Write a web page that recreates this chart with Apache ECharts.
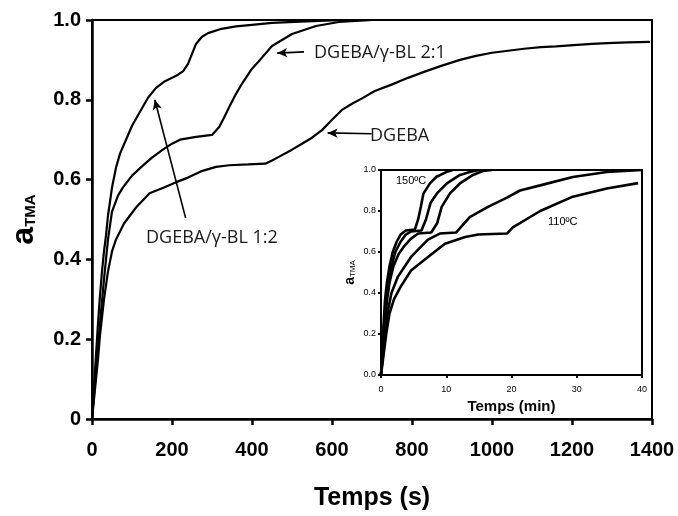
<!DOCTYPE html>
<html><head><meta charset="utf-8">
<script src="https://cdn.jsdelivr.net/npm/echarts@6/dist/echarts.min.js"></script>
<style>html,body{margin:0;padding:0;background:#fff}#c{width:678px;height:516px}</style>
</head><body><div id="c"></div>
<script>
// ---- tick definitions ----
const mainXTicks = [0, 200, 400, 600, 800, 1000, 1200, 1400];
const mainYTickLabels = ['0', '0.2', '0.4', '0.6', '0.8', '1.0'];
const insetXTicks = [0, 10, 20, 30, 40];
const insetYTickLabels = ['0.0', '0.2', '0.4', '0.6', '0.8', '1.0'];

// ---- main chart series: [time (s), a_TMA] ----
const blend12 = [[0,0],[5,0.08],[10,0.16],[15,0.24],[20,0.31],[25,0.37],[30,0.42],[35,0.46],[40,0.51],[50,0.58],[60,0.63],[70,0.665],[85,0.70],[100,0.735],[120,0.77],[140,0.805],[160,0.83],[180,0.845],[200,0.855],[215,0.863],[228,0.872],[240,0.89],[250,0.915],[260,0.94],[275,0.958],[290,0.967],[320,0.977],[360,0.984],[400,0.988],[450,0.993],[520,0.996],[600,0.999],[700,1.0],[760,1.0]];
const blend21 = [[0,0],[5,0.06],[10,0.12],[15,0.18],[20,0.24],[30,0.35],[40,0.45],[50,0.52],[65,0.56],[77,0.58],[100,0.61],[127,0.635],[150,0.655],[177,0.675],[200,0.69],[220,0.70],[260,0.707],[300,0.712],[318,0.732],[330,0.755],[343,0.782],[360,0.815],[376,0.842],[400,0.878],[420,0.9],[450,0.935],[500,0.965],[560,0.985],[617,0.995],[700,1.0],[760,1.0]];
const dgeba = [[0,0],[5,0.05],[10,0.1],[15,0.15],[20,0.21],[30,0.3],[40,0.37],[50,0.42],[60,0.45],[80,0.49],[110,0.53],[144,0.566],[180,0.58],[209,0.593],[240,0.605],[276,0.622],[310,0.632],[343,0.636],[390,0.638],[433,0.64],[450,0.648],[467,0.657],[500,0.675],[525,0.69],[550,0.705],[575,0.724],[600,0.75],[624,0.774],[650,0.79],[674,0.803],[707,0.822],[749,0.838],[790,0.855],[830,0.87],[873,0.885],[920,0.9],[960,0.91],[1000,0.918],[1040,0.923],[1080,0.928],[1122,0.932],[1160,0.934],[1204,0.937],[1250,0.94],[1288,0.942],[1340,0.944],[1395,0.945]];

// ---- inset series: [time (min), a_TMA] ----
const inset150 = [[0,0],[0.2,0.12],[0.4,0.25],[0.6,0.36],[0.9,0.45],[1.3,0.53],[1.8,0.6],[2.4,0.65],[3.0,0.685],[3.8,0.705],[5.2,0.71],[5.7,0.76],[6.1,0.82],[6.5,0.885],[7.5,0.935],[8.5,0.967],[10,0.99],[11,1.0]];
const inset140 = [[0,0],[0.25,0.12],[0.5,0.25],[0.8,0.36],[1.1,0.45],[1.6,0.53],[2.2,0.6],[3,0.65],[3.8,0.685],[4.6,0.70],[6.2,0.705],[6.9,0.76],[7.6,0.84],[8.6,0.887],[10.1,0.935],[12.1,0.976],[13.6,0.99],[15,1.0]];
const inset130 = [[0,0],[0.3,0.12],[0.6,0.25],[0.9,0.36],[1.3,0.45],[1.9,0.53],[2.7,0.59],[3.6,0.63],[4.6,0.665],[5.7,0.69],[7.7,0.695],[8.6,0.74],[9.3,0.82],[10.6,0.887],[12.1,0.935],[14.1,0.976],[15.6,0.995],[17,1.0]];
const inset120 = [[0,0],[0.35,0.12],[0.7,0.22],[1.1,0.32],[1.6,0.40],[2.6,0.48],[4.6,0.576],[7.2,0.66],[9,0.69],[11.5,0.695],[13.6,0.77],[16.4,0.82],[19.3,0.865],[21.3,0.9],[24.4,0.925],[29.4,0.966],[34.6,0.99],[40,1.0]];
const inset110 = [[0,0],[0.4,0.1],[0.8,0.2],[1.3,0.3],[2.0,0.37],[3,0.43],[4.6,0.51],[7.2,0.576],[9.8,0.64],[12.9,0.673],[14.9,0.685],[19.3,0.69],[20.2,0.72],[24.4,0.80],[29.4,0.87],[34.6,0.91],[39.4,0.936]];

// ---- annotation arrows in data coords [from, to] ----
const arrows = [
  [[530, 0.92], [463, 0.917]],
  [[699, 0.715], [589, 0.717]],
  [[234, 0.504], [157, 0.80]]
];

const chart = echarts.init(document.getElementById('c'), null, {renderer: 'canvas'});
const F = 'Liberation Sans, Arial, sans-serif';

function mainLine(data, extra) {
  return Object.assign({
    type: 'line', data: data, xAxisIndex: 0, yAxisIndex: 0,
    showSymbol: false, symbol: 'none', smooth: false,
    lineStyle: {color: '#000', width: 2.2}, silent: true, z: 3
  }, extra || {});
}
function insetLine(data) {
  return {
    type: 'line', data: data, xAxisIndex: 1, yAxisIndex: 1,
    showSymbol: false, symbol: 'none',
    lineStyle: {color: '#000', width: 2.6}, silent: true, z: 3
  };
}

const option = {
  animation: false,
  backgroundColor: '#fff',
  grid: [
    {left: 88, top: 20, right: 26, bottom: 97, show: true, borderColor: '#000', borderWidth: 2, backgroundColor: 'transparent'},
    {left: 381, top: 170, width: 261, height: 205, show: true, borderColor: '#000', borderWidth: 2, backgroundColor: '#fff', z: 2}
  ],
  xAxis: [
    {
      type: 'value', gridIndex: 0, min: mainXTicks[0], max: mainXTicks[mainXTicks.length - 1],
      interval: mainXTicks[1] - mainXTicks[0],
      name: 'Temps (s)', nameLocation: 'middle', nameGap: 67,
      nameTextStyle: {fontFamily: F, fontWeight: 'bold', fontSize: 25, color: '#000'},
      axisLine: {lineStyle: {color: '#000', width: 2.5}},
      axisTick: {inside: false, length: 6, lineStyle: {color: '#000', width: 2.5}},
      axisLabel: {margin: 21, fontFamily: F, fontWeight: 'bold', fontSize: 20, color: '#000',
        formatter: v => String(mainXTicks[mainXTicks.indexOf(v)])},
      splitLine: {show: false}
    },
    {
      type: 'value', gridIndex: 1, min: insetXTicks[0], max: insetXTicks[insetXTicks.length - 1],
      interval: insetXTicks[1] - insetXTicks[0],
      name: 'Temps (min)', nameLocation: 'middle', nameGap: 24,
      nameTextStyle: {fontFamily: F, fontWeight: 'bold', fontSize: 15, color: '#000'},
      axisLine: {lineStyle: {color: '#000', width: 2}},
      axisTick: {length: 3, lineStyle: {color: '#000', width: 2}},
      axisLabel: {margin: 10, fontFamily: F, fontSize: 9, color: '#000'},
      splitLine: {show: false}
    }
  ],
  yAxis: [
    {
      type: 'value', gridIndex: 0, min: 0, max: 1, interval: 0.2,
      name: '{a|a}{s|TMA}', nameLocation: 'middle', nameGap: 52, nameRotate: 90,
      nameTextStyle: {
        color: '#000',
        rich: {
          a: {fontFamily: F, fontWeight: 'bold', fontSize: 32, color: '#000', verticalAlign: 'bottom'},
          s: {fontFamily: F, fontWeight: 'bold', fontSize: 15, color: '#000', verticalAlign: 'bottom', padding: [0, 0, 2, 0]}
        }
      },
      axisLine: {lineStyle: {color: '#000', width: 2.5}},
      axisTick: {length: 6, lineStyle: {color: '#000', width: 2.5}},
      axisLabel: {margin: 11, fontFamily: F, fontWeight: 'bold', fontSize: 20, color: '#000',
        formatter: v => mainYTickLabels[Math.round(v / 0.2)]},
      splitLine: {show: false}
    },
    {
      type: 'value', gridIndex: 1, min: 0, max: 1, interval: 0.2,
      name: '{a|a}{s|TMA}', nameLocation: 'middle', nameGap: 24, nameRotate: 90,
      nameTextStyle: {
        color: '#000',
        rich: {
          a: {fontFamily: F, fontWeight: 'bold', fontSize: 14, color: '#000', verticalAlign: 'bottom'},
          s: {fontFamily: F, fontSize: 8, color: '#000', verticalAlign: 'bottom'}
        }
      },
      axisLine: {lineStyle: {color: '#000', width: 2}},
      axisTick: {length: 3, lineStyle: {color: '#000', width: 2}},
      axisLabel: {margin: 5, fontFamily: F, fontSize: 9, color: '#000',
        formatter: v => insetYTickLabels[Math.round(v / 0.2)]},
      splitLine: {show: false}
    }
  ],
  series: [
    mainLine(blend12),
    mainLine(blend21),
    mainLine(dgeba, {
      markLine: {
        silent: true, symbol: ['none', 'arrow'], symbolSize: [7, 10],
        label: {show: false},
        lineStyle: {color: '#000', width: 1.6, type: 'solid'},
        data: arrows.map(a => [{coord: a[0]}, {coord: a[1]}])
      }
    }),
    insetLine(inset150),
    insetLine(inset140),
    insetLine(inset130),
    insetLine(inset120),
    insetLine(inset110)
  ],
  graphic: [
    {type: 'text', x: 314, y: 53, z: 10, style: {text: 'DGEBA/γ-BL 2:1', font: '18px "Open Sans"', fill: '#1a1a1a', verticalAlign: 'middle'}},
    {type: 'text', x: 370, y: 136, z: 10, style: {text: 'DGEBA', font: '18px "Open Sans"', fill: '#1a1a1a', verticalAlign: 'middle'}},
    {type: 'text', x: 146, y: 238, z: 10, style: {text: 'DGEBA/γ-BL 1:2', font: '18px "Open Sans"', fill: '#1a1a1a', verticalAlign: 'middle'}},
    {type: 'text', x: 396, y: 181, z: 10, style: {text: '150ºC', font: '11px "Liberation Sans"', fill: '#000', verticalAlign: 'middle'}},
    {type: 'text', x: 548, y: 222, z: 10, style: {text: '110ºC', font: '11px "Liberation Sans"', fill: '#000', verticalAlign: 'middle'}}
  ]
};
chart.setOption(option);
</script>
</body></html>
